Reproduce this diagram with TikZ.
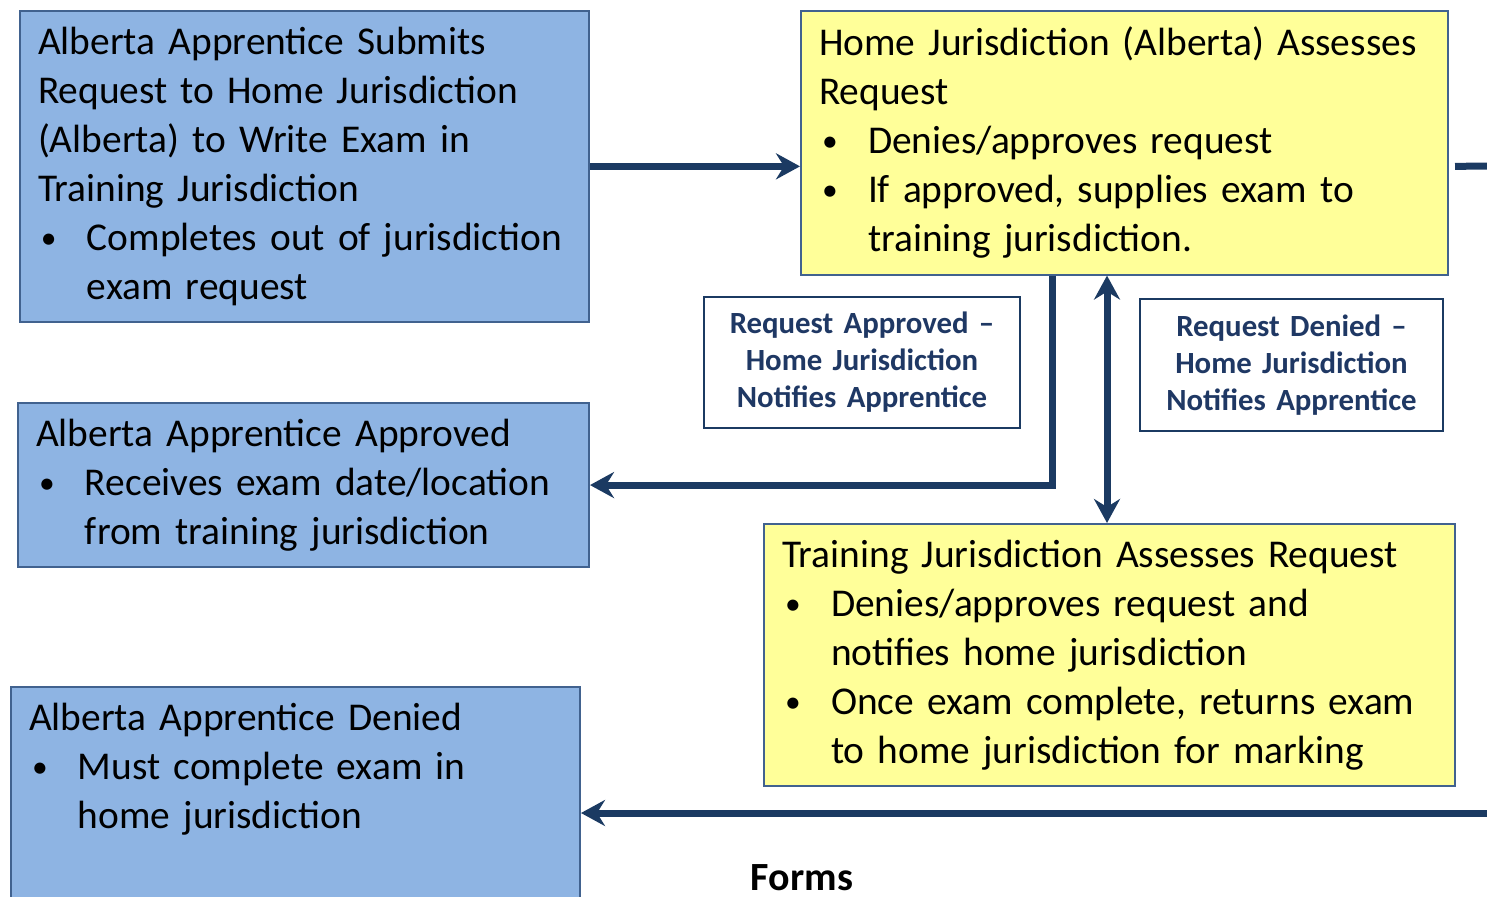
\documentclass[tikz,border=0pt]{standalone}
\usepackage{fontspec}
\setmainfont{Carlito}
\usetikzlibrary{arrows.meta,calc}
\definecolor{boxblue}{HTML}{8EB4E3}
\definecolor{boxyellow}{HTML}{FFFF99}
\definecolor{edgeblue}{HTML}{41628F}
\definecolor{navy}{HTML}{1B3A62}
\definecolor{labelnavy}{HTML}{1F3864}
\newcommand\bul{\makebox[24.5pt][l]{\hspace{1.5pt}\raisebox{1pt}{\scalebox{0.8}{\textbullet}}}}
\newcommand\ind{\hspace*{24.5pt}}
\tikzset{
  stepbox/.style={draw=edgeblue, line width=1pt, anchor=north west, align=left,
    inner xsep=9pt, inner ysep=8pt, font=\fontsize{19.7}{24.5}\selectfont},
  bluebox/.style={stepbox, fill=boxblue},
  yellowbox/.style={stepbox, fill=boxyellow},
  notebox/.style={draw=navy, line width=1pt, fill=white, align=center, inner sep=4pt,
    text=labelnavy, font=\bfseries\fontsize{15.4}{18.5}\selectfont},
  link/.style={navy, line width=3.5pt},
  arr/.style={link, -{Stealth[length=12pt,width=13pt,inset=4pt]}},
  arrboth/.style={link, {Stealth[length=12pt,width=13pt,inset=4pt]}-{Stealth[length=12pt,width=13pt,inset=4pt]}},
}

\begin{document}
\begin{tikzpicture}[x=0.5pt,y=-0.5pt]
		%%%%% START %%%%%
		\useasboundingbox (0,0) rectangle (1487,897);
		\clip (0,0) rectangle (1487,897);
		
		\node[bluebox, text width=266.5pt] (submit) at (19,10) {Alberta Apprentice Submits\\ Request to Home Jurisdiction\\ (Alberta) to Write Exam in\\ Training Jurisdiction\\ \bul Completes out of jurisdiction\\ \ind exam request};
		\node[yellowbox, text width=305.5pt] (assess) at (800,10) {Home Jurisdiction (Alberta) Assesses\\ Request\\ \bul Denies/approves request\\ \bul If approved, supplies exam to\\ \ind training jurisdiction.};
		\node[bluebox, text width=267.5pt] (approved) at (17,402) {Alberta Apprentice Approved\\ \bul Receives exam date/location\\ \ind from training jurisdiction};
		\node[yellowbox, text width=327.5pt] (train) at (763,523) {Training Jurisdiction Assesses Request\\ \bul Denies/approves request and\\ \ind notifies home jurisdiction\\ \bul Once exam complete, returns exam\\ \ind to home jurisdiction for marking};
		\node[bluebox, text width=266.5pt] (denied) at (10,686) {Alberta Apprentice Denied\\ \bul Must complete exam in\\ \ind home jurisdiction\\ \mbox{}\\ \mbox{}};
		
		\node[notebox, text width=150pt, minimum height=65.5pt] (okmsg) at (862,362.5) {Request Approved --\\ Home Jurisdiction\\ Notifies Apprentice};
		\node[notebox, text width=143.5pt, minimum height=66pt] (nomsg) at (1291.5,365) {Request Denied --\\ Home Jurisdiction\\ Notifies Apprentice};
		
		\node[font=\bfseries\fontsize{20}{24}\selectfont, inner sep=0pt, anchor=base] (forms) at (802,890) {Forms};
		
		\coordinate (rtop) at (1495,166);
		\coordinate (rbot) at (1495,813);
		\coordinate (okx) at (1052,0);
		\coordinate (dnx) at (1107,0);
		
		\draw[arr] (submit.east) -- (submit.east -| assess.west);
		\draw[link] ([xshift=3pt]assess.east |- submit.east) -- (rtop);
		\draw[arr] (assess.south -| okx) |- (approved.east);
		\draw[arrboth] (assess.south -| dnx) -- (train.north -| dnx);
		\draw[arr] (rbot) -- (rbot -| denied.east);
		%%%%% END %%%%%
\end{tikzpicture}
\end{document}
